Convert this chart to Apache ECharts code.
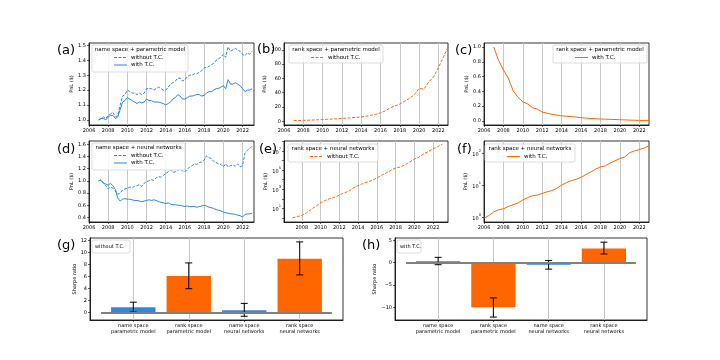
<!DOCTYPE html>
<html><head><meta charset="utf-8">
<script src="https://cdn.jsdelivr.net/npm/echarts@6/dist/echarts.min.js"></script>
<style>html,body{margin:0;padding:0;background:#fff}#c{width:720px;height:360px}</style>
</head><body><div id="c"></div><script>
// ---------------- data ----------------
const yearsQ = [2007,2007.25,2007.5,2007.75,2008,2008.25,2008.5,2008.75,2009,2009.25,2009.5,2009.75,2010,2010.25,2010.5,2010.75,2011,2011.25,2011.5,2011.75,2012,2012.25,2012.5,2012.75,2013,2013.25,2013.5,2013.75,2014,2014.25,2014.5,2014.75,2015,2015.25,2015.5,2015.75,2016,2016.25,2016.5,2016.75,2017,2017.25,2017.5,2017.75,2018,2018.25,2018.5,2018.75,2019,2019.25,2019.5,2019.75,2020,2020.25,2020.5,2020.75,2021,2021.25,2021.5,2021.75,2022,2022.25,2022.5,2022.75,2023];
const yearsH = [2007,2007.5,2008,2008.5,2009,2009.5,2010,2010.5,2011,2011.5,2012,2012.5,2013,2013.5,2014,2014.5,2015,2015.5,2016,2016.5,2017,2017.5,2018,2018.5,2019,2019.5,2020,2020.5,2021,2021.5,2022,2022.5,2023];
const yearsF = [2006,2006.5,2007,2007.5,2008,2008.5,2009,2009.5,2010,2010.5,2011,2011.5,2012,2012.5,2013,2013.5,2014,2014.5,2015,2015.5,2016,2016.5,2017,2017.5,2018,2018.5,2019,2019.5,2020,2020.5,2021,2021.5,2022,2022.5,2023];

// (a) name space + parametric model
const aWithout = [1.00,1.01,1.02,1.01,1.03,1.04,1.05,1.02,1.03,1.10,1.16,1.17,1.20,1.19,1.18,1.18,1.17,1.18,1.17,1.18,1.21,1.21,1.21,1.20,1.21,1.22,1.21,1.20,1.20,1.22,1.24,1.25,1.26,1.28,1.28,1.26,1.27,1.29,1.30,1.30,1.31,1.31,1.32,1.33,1.35,1.35,1.36,1.37,1.38,1.40,1.41,1.42,1.44,1.42,1.49,1.46,1.47,1.48,1.47,1.46,1.44,1.43,1.45,1.44,1.46];
const aWith = [1.00,1.01,1.01,1.00,1.02,1.03,1.03,1.01,1.02,1.07,1.12,1.13,1.15,1.14,1.13,1.12,1.11,1.12,1.115,1.12,1.14,1.13,1.13,1.12,1.12,1.12,1.115,1.11,1.10,1.11,1.12,1.14,1.15,1.17,1.16,1.14,1.14,1.15,1.16,1.16,1.165,1.17,1.17,1.16,1.165,1.18,1.19,1.19,1.20,1.21,1.21,1.22,1.23,1.21,1.27,1.24,1.24,1.25,1.24,1.23,1.21,1.19,1.20,1.20,1.21];
// (b) rank space + parametric model, without T.C.
const bWithout = [1.0,1.1,1.3,1.5,1.8,2.1,2.4,2.8,3.1,3.5,4.0,4.5,5.0,5.5,6.0,7.0,8.3,9.8,11.7,14.5,18.8,21.5,24.0,28.0,32.0,37.0,46.0,45.0,55.0,62.0,75.0,89.0,104.0];
// (c) rank space + parametric model, with T.C.
const cWith = [1.00,0.82,0.69,0.58,0.41,0.32,0.26,0.23,0.18,0.16,0.12,0.105,0.09,0.08,0.07,0.065,0.06,0.052,0.045,0.04,0.035,0.031,0.027,0.025,0.022,0.02,0.017,0.015,0.012,0.01,0.008,0.007,0.005];
// (d) name space + neural networks
const dWithout = [1.00,1.02,0.97,0.92,0.87,0.90,0.88,0.84,0.78,0.80,0.85,0.87,0.88,0.90,0.89,0.91,0.92,0.94,0.91,0.96,0.99,1.00,1.02,1.01,1.05,1.07,1.06,1.09,1.12,1.15,1.18,1.14,1.15,1.17,1.20,1.16,1.15,1.19,1.23,1.25,1.28,1.27,1.30,1.31,1.34,1.41,1.38,1.37,1.32,1.30,1.28,1.27,1.23,1.28,1.23,1.25,1.26,1.24,1.28,1.23,1.25,1.45,1.50,1.53,1.57];
const dWith = [1.00,1.01,0.96,0.95,0.93,0.96,0.92,0.86,0.72,0.67,0.70,0.71,0.70,0.70,0.69,0.68,0.68,0.67,0.66,0.67,0.68,0.69,0.68,0.69,0.68,0.66,0.65,0.64,0.63,0.64,0.62,0.61,0.61,0.60,0.60,0.59,0.58,0.59,0.58,0.58,0.58,0.57,0.58,0.59,0.60,0.59,0.57,0.56,0.55,0.53,0.52,0.51,0.49,0.48,0.47,0.46,0.46,0.45,0.44,0.43,0.41,0.45,0.46,0.46,0.47];
// (e) rank space + neural networks, without T.C.
const eWithout = [1.07,1.4,1.9,3.5,7.9,17,39,68,107,148,240,417,617,1380,2400,3890,5750,8510,14800,28200,49000,93300,162000,204000,355000,676000,1380000,2190000,4900000,8510000,16200000,28200000,49000000];
// (f) rank space + neural networks, with T.C.
const fWith = [0.95,1.15,1.48,1.74,1.86,2.19,2.51,2.82,3.55,4.17,4.79,5.01,5.62,6.31,6.92,8.13,10.2,12.3,14.1,15.5,17.8,21.9,26.3,32.4,38.0,40.7,50.1,58.9,69.2,77.6,105,120,132,148,174];

// Sharpe ratios
const barCategories = ['name space\nparametric model','rank space\nparametric model','name space\nneural networks','rank space\nneural networks'];
const sharpeWithout = [0.9, 6.1, 0.4, 9.0];
const sharpeWithoutLow = [0.1, 4.0, -0.6, 6.3];
const sharpeWithoutHigh = [1.75, 8.3, 1.55, 11.8];
const sharpeWith = [0.3, -10.0, -0.45, 3.2];
const sharpeWithLow = [-0.45, -12.2, -1.45, 1.95];
const sharpeWithHigh = [1.2, -7.9, 0.5, 4.6];

// tick labels
const yearTicks = [2006,2008,2010,2012,2014,2016,2018,2020,2022];
const yearTicksE = [2008,2010,2012,2014,2016,2018,2020,2022];
const aTicks = [1.0,1.1,1.2,1.3,1.4,1.5];
const bTicks = [0,20,40,60,80,100];
const cTicks = [0,0.2,0.4,0.6,0.8,1.0];
const dTicks = [0.4,0.6,0.8,1.0,1.2,1.4,1.6];
const gTicks = [0,2,4,6,8,10,12];
const hTicks = [-10,-5,0,5];

// ---------------- styling ----------------
const BLUE = '#2b88e6', ORANGE = '#ff6600';
const barColors = [BLUE, ORANGE, BLUE, ORANGE];
const FONT = 'DejaVu Sans';
const pairs = (xs, ys) => xs.map((x, i) => [x, ys[i]]);

const grids = [
  {left:89, top:43, width:165, height:82},
  {left:284, top:43, width:164, height:82},
  {left:484, top:43, width:165, height:82},
  {left:89, top:141, width:165, height:81},
  {left:284, top:141, width:164, height:81},
  {left:484, top:141, width:165, height:81},
  {left:90, top:238, width:253, height:82},
  {left:395, top:238, width:252, height:82}
].map(g => Object.assign({show:true, borderColor:'#000', borderWidth:0.8, backgroundColor:'transparent', containLabel:false}, g));

const axisLine = {show:true, onZero:false, lineStyle:{color:'#000', width:0.8}};
const tickStyle = {color:'#000', width:0.6};

function xAxisYear(gi, min, max, ticks) {
  return {type:'value', gridIndex:gi, min, max,
    axisLine,
    axisTick:{show:true, length:2, lineStyle:tickStyle, customValues:ticks},
    axisLabel:{fontSize:5, color:'#000', fontFamily:FONT, margin:3, customValues:ticks, formatter:v=>String(Math.round(v))},
    splitLine:{show:true, lineStyle:{color:'#c8c8c8', width:1}}};
}
function yAxisLin(gi, min, max, ticks, dec, name, gap) {
  return {type:'value', gridIndex:gi, min, max,
    name, nameLocation:'middle', nameGap:gap, nameRotate:90,
    nameTextStyle:{fontSize:5, fontFamily:FONT, color:'#000'},
    axisLine,
    axisTick:{show:true, length:2, lineStyle:tickStyle, customValues:ticks},
    axisLabel:{fontSize:5, color:'#000', fontFamily:FONT, margin:3, customValues:ticks,
      formatter:v=>{ const s = Number(v).toFixed(dec); return s.replace('-', '\u2212'); }},
    splitLine:{show:false}};
}
function yAxisLog(gi, min, max, oddOnly, gap) {
  return {type:'log', logBase:10, gridIndex:gi, min, max,
    name:'PnL ($)', nameLocation:'middle', nameGap:gap, nameRotate:90,
    nameTextStyle:{fontSize:5, fontFamily:FONT, color:'#000'},
    axisLine,
    axisTick:{show:true, length:2, lineStyle:tickStyle},
    axisLabel:{showMinLabel:false, showMaxLabel:false, color:'#000', margin:3,
      formatter:v=>{ const l = Math.log10(v); const e = Math.round(l);
        if (Math.abs(l - e) > 1e-6) return '';
        if (oddOnly && e % 2 === 0) return '';
        return '{b|10}{s|' + e + '}'; },
      rich:{b:{fontSize:5, fontFamily:FONT, color:'#000', verticalAlign:'bottom', lineHeight:8},
            s:{fontSize:3.6, fontFamily:FONT, color:'#000', verticalAlign:'top', lineHeight:8}}},
    splitLine:{show:false}};
}
function xAxisBar(gi) {
  const t = [0,1,2,3];
  return {type:'value', gridIndex:gi, min:-0.78, max:3.78,
    axisLine,
    axisTick:{show:true, length:2, lineStyle:tickStyle, customValues:t},
    axisLabel:{fontSize:5, color:'#000', fontFamily:FONT, margin:3, lineHeight:6, customValues:t,
      formatter:v=>barCategories[Math.round(v)] || ''},
    splitLine:{show:true, lineStyle:{color:'#c8c8c8', width:1}}};
}

const xAxes = [
  xAxisYear(0, 2006, 2023.2, yearTicks),
  xAxisYear(1, 2006, 2023, yearTicks),
  xAxisYear(2, 2006, 2023, yearTicks),
  xAxisYear(3, 2006, 2023.2, yearTicks),
  xAxisYear(4, 2006.1, 2023.6, yearTicksE),
  xAxisYear(5, 2006, 2023, yearTicks),
  xAxisBar(6), xAxisBar(7)
];
const yAxes = [
  yAxisLin(0, 0.966, 1.516, aTicks, 1, 'PnL ($)', 13),
  yAxisLin(1, -5.2, 109.5, bTicks, 0, 'PnL ($)', 13),
  yAxisLin(2, -0.054, 1.054, cTicks, 1, 'PnL ($)', 14),
  yAxisLin(3, 0.327, 1.654, dTicks, 1, 'PnL ($)', 13),
  yAxisLog(4, 0.39, 1.07e8, true, 13),
  yAxisLog(5, 0.72, 245, false, 14),
  yAxisLin(6, -1.22, 12.45, gTicks, 0, 'Sharpe ratio', 12),
  yAxisLin(7, -12.86, 5.54, hTicks, 0, 'Sharpe ratio', 16)
];

const DASH = [3, 1.5];
function lineSeries(i, xs, ys, color, dashed) {
  return {type:'line', xAxisIndex:i, yAxisIndex:i, data:pairs(xs, ys), showSymbol:false, symbol:'none',
    lineStyle:{color, width:1, type: dashed ? DASH : 'solid'}, silent:true, animation:false, z:2};
}
function barSeries(i, vals) {
  return {type:'bar', xAxisIndex:i, yAxisIndex:i, data:vals.map((v, k) => [k, v]), barWidth:'80%',
    itemStyle:{color:p => barColors[p.dataIndex]}, animation:false, silent:true, z:2,
    markLine:{silent:true, symbol:'none', animation:false, label:{show:false},
      lineStyle:{color:'#808080', width:1.8, type:'solid'},
      data:[[{coord:[-0.58, 0]}, {coord:[3.58, 0]}]]}};
}
function errSeries(i, lo, hi) {
  return {type:'custom', xAxisIndex:i, yAxisIndex:i, data:lo.map((l, k) => [k, l, hi[k]]),
    encode:{x:0, y:[1, 2]}, z:4, animation:false, silent:true,
    renderItem:(params, api) => {
      const x = api.value(0);
      const p1 = api.coord([x, api.value(1)]), p2 = api.coord([x, api.value(2)]);
      const hw = 3.5, st = {stroke:'#000', lineWidth:1};
      return {type:'group', children:[
        {type:'line', shape:{x1:p1[0], y1:p1[1], x2:p2[0], y2:p2[1]}, style:st},
        {type:'line', shape:{x1:p1[0]-hw, y1:p1[1], x2:p1[0]+hw, y2:p1[1]}, style:st},
        {type:'line', shape:{x1:p2[0]-hw, y1:p2[1], x2:p2[0]+hw, y2:p2[1]}, style:st}
      ]};
    }};
}

const series = [
  lineSeries(0, yearsQ, aWithout, BLUE, true),
  lineSeries(0, yearsQ, aWith, BLUE, false),
  lineSeries(1, yearsH, bWithout, ORANGE, true),
  lineSeries(2, yearsH, cWith, ORANGE, false),
  lineSeries(3, yearsQ, dWithout, BLUE, true),
  lineSeries(3, yearsQ, dWith, BLUE, false),
  lineSeries(4, yearsH, eWithout, ORANGE, true),
  lineSeries(5, yearsF, fWith, ORANGE, false),
  barSeries(6, sharpeWithout), errSeries(6, sharpeWithoutLow, sharpeWithoutHigh),
  barSeries(7, sharpeWith), errSeries(7, sharpeWithLow, sharpeWithHigh)
];

// ---------------- legends & panel labels (graphic) ----------------
const G = [];
function txt(text, x, y, size, align) {
  G.push({type:'text', z:100, silent:true, style:{text, x, y, fill:'#000', fontSize:size, fontFamily:FONT,
    align:align || 'left', verticalAlign:'middle'}});
}
function box(x, y, w, h) {
  G.push({type:'rect', z:99, silent:true, shape:{x, y, width:w, height:h, r:2},
    style:{fill:'rgba(255,255,255,0.85)', stroke:'#d4d4d4', lineWidth:0.8}});
}
function sample(x1, x2, y, color, dashed) {
  G.push({type:'line', z:100, silent:true, shape:{x1, y1:y, x2, y2:y},
    style:{stroke:color, lineWidth:1, lineDash: dashed ? DASH : null}});
}
function legend(x, y, w, h, title, entries, color) {
  box(x, y, w, h);
  txt(title, x + w / 2, y + 5, 5.5, 'center');
  entries.forEach((e, k) => {
    const yy = y + 12.5 + k * 7.5;
    sample(x + 22, x + 35, yy, color, e[1]);
    txt(e[0], x + 39, yy, 5.5, 'left');
  });
}
legend(92, 45, 96, 27, 'name space + parametric model', [['without T.C.', true], ['with T.C.', false]], BLUE);
legend(289, 45, 94, 18, 'rank space + parametric model', [['without T.C.', true]], ORANGE);
legend(553, 45, 94, 18, 'rank space + parametric model', [['with T.C.', false]], ORANGE);
legend(92, 143, 93, 27, 'name space + neural networks', [['without T.C.', true], ['with T.C.', false]], BLUE);
legend(288, 144, 90, 18, 'rank space + neural networks', [['without T.C.', true]], ORANGE);
legend(485, 144, 90, 18, 'rank space + neural networks', [['with T.C.', false]], ORANGE);
// bar legends
box(92, 240, 38, 13); txt('without T.C.', 95, 246.5, 5, 'left');
box(397, 240, 24, 13); txt('with T.C.', 400, 246.5, 5, 'left');
// panel labels
txt('(a)', 57, 51, 13); txt('(b)', 257, 50, 13); txt('(c)', 455, 51, 13);
txt('(d)', 57, 150, 13); txt('(e)', 259, 150, 13); txt('(f)', 457, 150, 13);
txt('(g)', 57, 246, 13); txt('(h)', 362, 246, 13);

const chart = echarts.init(document.getElementById('c'), null, {renderer:'canvas'});
chart.setOption({animation:false, backgroundColor:'#fff', grid:grids, xAxis:xAxes, yAxis:yAxes, series, graphic:G});
</script></body></html>
